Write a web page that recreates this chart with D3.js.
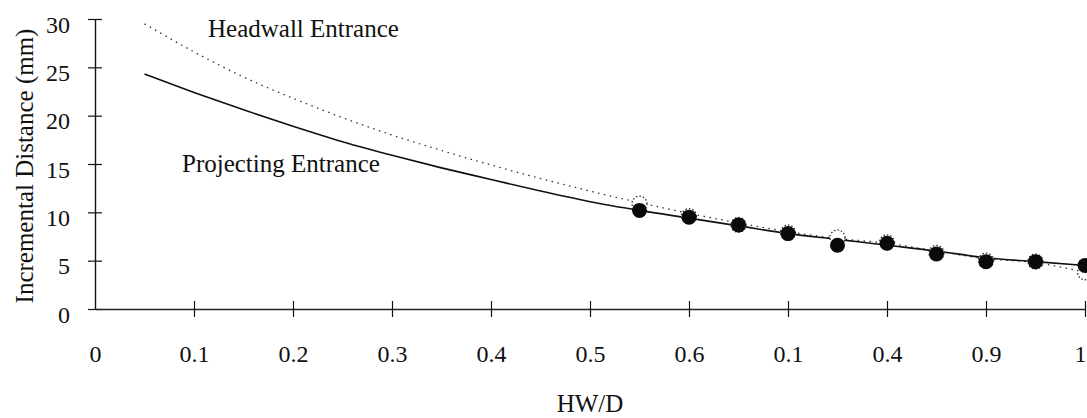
<!DOCTYPE html>
<html>
<head>
<meta charset="utf-8">
<script src="https://cdn.jsdelivr.net/npm/d3@7"></script>
<style>
  html, body { margin: 0; padding: 0; background: #fff; }
  svg { display: block; }
  svg text { font-family: "Liberation Serif", "Times New Roman", Times, "DejaVu Serif", serif !important; fill: #111; }
</style>
</head>
<body>
<svg id="chart" width="1087" height="418"></svg>
<script>
const SERIF = '"Liberation Serif", "Times New Roman", Times, "DejaVu Serif", serif';

// HW/D ratio samples for the two entrance curves
const curveX = [0.05, 0.1, 0.15, 0.2, 0.25, 0.3, 0.35, 0.4, 0.45, 0.5, 0.55, 0.6, 0.65, 0.7, 0.75, 0.8, 0.85, 0.9, 0.95, 1.0];
const projectingCurve = [24.3, 22.4, 20.6, 18.9, 17.3, 15.9, 14.6, 13.4, 12.2, 11.1, 10.2, 9.4, 8.6, 7.8, 7.2, 6.6, 6.0, 5.3, 4.9, 4.5];
const headwallCurve   = [29.5, 26.6, 24.0, 21.8, 19.8, 18.0, 16.4, 14.9, 13.5, 12.2, 11.0, 9.9, 8.9, 8.0, 7.3, 6.8, 6.0, 5.2, 4.8, 3.8];

// measured points
const pointX = [0.55, 0.6, 0.65, 0.7, 0.75, 0.8, 0.85, 0.9, 0.95, 1.0];
const projectingPoints = [10.2, 9.5, 8.7, 7.8, 6.6, 6.8, 5.7, 4.9, 4.9, 4.5];
const headwallPoints   = [10.9, 9.6, 8.7, 7.9, 7.4, 6.9, 5.8, 5.0, 4.9, 3.8];

// axis ticks and their printed labels
const xTicks = [0, 0.1, 0.2, 0.3, 0.4, 0.5, 0.6, 0.7, 0.8, 0.9, 1.0];
const xTickLabels = ["0", "0.1", "0.2", "0.3", "0.4", "0.5", "0.6", "0.1", "0.4", "0.9", "1"];
const yTicks = [0, 5, 10, 15, 20, 25, 30];

const svg = d3.select("#chart");

const x = d3.scaleLinear().domain([0, 1]).range([95, 1085]);
const y = d3.scaleLinear().domain([0, 30]).range([309, 19]);

// y axis: ticks cross the axis line
const yAxis = svg.append("g")
  .attr("transform", `translate(${x(0)},0)`)
  .call(d3.axisLeft(y).tickValues(yTicks).tickSize(7).tickPadding(18).tickSizeOuter(0));
yAxis.attr("font-family", SERIF);
yAxis.select(".domain").attr("stroke", "#111").attr("stroke-width", 1.4);
yAxis.selectAll(".tick line").attr("x1", 7).attr("stroke", "#111").attr("stroke-width", 1.2);
yAxis.selectAll(".tick text")
  .attr("font-size", 24).attr("font-family", SERIF).attr("fill", "#111")
  .attr("dy", "0.55em");

// x axis along zero
const xAxis = svg.append("g")
  .attr("transform", `translate(0,${y(0)})`)
  .call(d3.axisBottom(x).tickValues(xTicks)
    .tickFormat((d, i) => xTickLabels[i])
    .tickSize(8).tickPadding(28).tickSizeOuter(0));
xAxis.attr("font-family", SERIF);
xAxis.select(".domain").attr("stroke", "#222").attr("stroke-width", 1.4);
xAxis.selectAll(".tick line").attr("y1", -8).attr("stroke", "#111").attr("stroke-width", 1.2);
xAxis.selectAll(".tick text")
  .attr("font-size", 24).attr("font-family", SERIF).attr("fill", "#111");
xAxis.selectAll(".tick").filter(d => d === 0).select("line").remove();
xAxis.selectAll(".tick").filter(d => d === 1).select("text")
  .attr("text-anchor", "end").attr("dx", 1);

// curves
const line = d3.line()
  .x(d => x(d[0]))
  .y(d => y(d[1]))
  .curve(d3.curveMonotoneX);

svg.append("path")
  .datum(curveX.map((v, i) => [v, headwallCurve[i]]))
  .attr("d", line)
  .attr("fill", "none")
  .attr("stroke", "#333")
  .attr("stroke-width", 1.3)
  .attr("stroke-dasharray", "1.5,4.5");

svg.append("path")
  .datum(curveX.map((v, i) => [v, projectingCurve[i]]))
  .attr("d", line)
  .attr("fill", "none")
  .attr("stroke", "#111")
  .attr("stroke-width", 1.6);

// headwall markers (open, dotted outline) beneath the projecting markers
svg.append("g").selectAll("circle")
  .data(pointX.map((v, i) => [v, headwallPoints[i]]))
  .join("circle")
  .attr("cx", d => x(d[0]))
  .attr("cy", d => y(d[1]))
  .attr("r", 7.5)
  .attr("fill", "#fff")
  .attr("stroke", "#333")
  .attr("stroke-width", 1.3)
  .attr("stroke-dasharray", "1.5,2");

svg.append("g").selectAll("circle")
  .data(pointX.map((v, i) => [v, projectingPoints[i]]))
  .join("circle")
  .attr("cx", d => x(d[0]))
  .attr("cy", d => y(d[1]))
  .attr("r", 7.5)
  .attr("fill", "#0a0a0a");

// series labels
svg.append("text")
  .attr("x", 208).attr("y", 37)
  .attr("font-size", 25).attr("font-family", SERIF)
  .text("Headwall Entrance");

svg.append("text")
  .attr("x", 182).attr("y", 172)
  .attr("font-size", 25).attr("font-family", SERIF)
  .text("Projecting Entrance");

// axis titles
svg.append("text")
  .attr("x", 590).attr("y", 412)
  .attr("text-anchor", "middle")
  .attr("font-size", 25).attr("font-family", SERIF)
  .text("HW/D");

svg.append("text")
  .attr("transform", "translate(33,166) rotate(-90)")
  .attr("text-anchor", "middle")
  .attr("font-size", 25).attr("font-family", SERIF)
  .text("Incremental Distance (mm)");
</script>
</body>
</html>
